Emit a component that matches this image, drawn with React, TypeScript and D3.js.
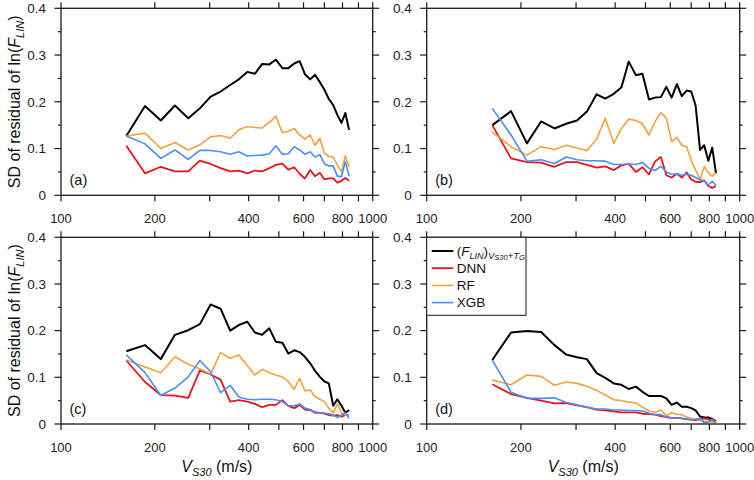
import * as d3 from 'd3';

// V_S30 bin centres (m/s), shared by all four panels
const VS30 = [162, 186, 209, 232, 256, 279, 302, 325, 349, 372, 396, 419, 442, 466, 489, 513, 536, 560, 583, 606, 630, 653, 677, 700, 723, 747, 770, 794, 817, 840];

// (a)
const A_GMM = [0.127, 0.191, 0.160, 0.192, 0.165, 0.186, 0.211, 0.222, 0.236, 0.248, 0.264, 0.260, 0.281, 0.280, 0.290, 0.272, 0.272, 0.282, 0.287, 0.259, 0.248, 0.258, 0.242, 0.226, 0.206, 0.193, 0.172, 0.155, 0.176, 0.140];
const A_DNN = [0.106, 0.047, 0.061, 0.051, 0.051, 0.074, 0.067, 0.058, 0.051, 0.053, 0.047, 0.053, 0.051, 0.058, 0.065, 0.068, 0.055, 0.060, 0.046, 0.036, 0.054, 0.041, 0.048, 0.034, 0.036, 0.036, 0.027, 0.031, 0.037, 0.031];
const A_RF = [0.127, 0.133, 0.100, 0.113, 0.097, 0.108, 0.125, 0.128, 0.122, 0.140, 0.147, 0.145, 0.144, 0.156, 0.169, 0.134, 0.137, 0.143, 0.129, 0.120, 0.129, 0.107, 0.122, 0.090, 0.083, 0.082, 0.065, 0.050, 0.085, 0.060];
const A_XGB = [0.127, 0.110, 0.079, 0.097, 0.077, 0.096, 0.096, 0.093, 0.088, 0.093, 0.084, 0.085, 0.086, 0.089, 0.106, 0.088, 0.089, 0.104, 0.097, 0.088, 0.093, 0.082, 0.087, 0.067, 0.063, 0.063, 0.041, 0.040, 0.072, 0.041];

// (b)
const B_GMM = [0.150, 0.180, 0.111, 0.158, 0.143, 0.153, 0.160, 0.179, 0.216, 0.207, 0.217, 0.231, 0.286, 0.257, 0.260, 0.205, 0.209, 0.210, 0.232, 0.209, 0.238, 0.212, 0.224, 0.222, 0.192, 0.097, 0.107, 0.074, 0.102, 0.047];
const B_DNN = [0.150, 0.079, 0.071, 0.070, 0.061, 0.071, 0.071, 0.065, 0.059, 0.062, 0.054, 0.064, 0.067, 0.050, 0.060, 0.045, 0.072, 0.082, 0.043, 0.038, 0.046, 0.038, 0.049, 0.034, 0.029, 0.028, 0.032, 0.020, 0.016, 0.020];
const B_RF = [0.135, 0.104, 0.086, 0.104, 0.098, 0.107, 0.101, 0.096, 0.120, 0.165, 0.111, 0.143, 0.163, 0.160, 0.153, 0.129, 0.157, 0.177, 0.165, 0.115, 0.124, 0.107, 0.104, 0.075, 0.054, 0.034, 0.061, 0.048, 0.041, 0.048];
const B_XGB = [0.186, 0.129, 0.073, 0.076, 0.068, 0.082, 0.076, 0.074, 0.074, 0.073, 0.066, 0.066, 0.067, 0.066, 0.070, 0.058, 0.053, 0.062, 0.050, 0.045, 0.046, 0.043, 0.045, 0.043, 0.038, 0.033, 0.031, 0.022, 0.030, 0.021];

// (c)
const C_GMM = [0.156, 0.169, 0.139, 0.191, 0.201, 0.214, 0.256, 0.247, 0.200, 0.212, 0.219, 0.196, 0.191, 0.205, 0.176, 0.174, 0.151, 0.158, 0.154, 0.144, 0.130, 0.114, 0.101, 0.091, 0.087, 0.039, 0.053, 0.039, 0.024, 0.030];
const C_DNN = [0.136, 0.090, 0.062, 0.061, 0.056, 0.115, 0.106, 0.095, 0.048, 0.051, 0.048, 0.043, 0.036, 0.041, 0.041, 0.051, 0.039, 0.034, 0.041, 0.031, 0.030, 0.024, 0.024, 0.022, 0.019, 0.018, 0.019, 0.016, 0.019, 0.019];
const C_RF = [0.137, 0.122, 0.110, 0.144, 0.128, 0.118, 0.107, 0.153, 0.141, 0.148, 0.125, 0.105, 0.117, 0.110, 0.105, 0.101, 0.091, 0.074, 0.098, 0.071, 0.073, 0.059, 0.053, 0.048, 0.034, 0.024, 0.043, 0.023, 0.019, 0.019];
const C_XGB = [0.148, 0.110, 0.061, 0.077, 0.101, 0.136, 0.112, 0.067, 0.083, 0.058, 0.053, 0.052, 0.053, 0.053, 0.052, 0.048, 0.039, 0.039, 0.043, 0.034, 0.031, 0.026, 0.024, 0.023, 0.022, 0.019, 0.014, 0.019, 0.024, 0.012];

// (d)
const D_GMM = [0.137, 0.196, 0.199, 0.197, 0.169, 0.149, 0.143, 0.139, 0.109, 0.099, 0.087, 0.084, 0.075, 0.080, 0.069, 0.060, 0.060, 0.060, 0.055, 0.041, 0.046, 0.037, 0.037, 0.034, 0.029, 0.016, 0.014, 0.014, 0.011, 0.005];
const D_DNN = [0.085, 0.064, 0.056, 0.050, 0.044, 0.045, 0.040, 0.036, 0.031, 0.029, 0.027, 0.025, 0.025, 0.025, 0.022, 0.021, 0.020, 0.017, 0.015, 0.013, 0.013, 0.012, 0.010, 0.010, 0.008, 0.010, 0.012, 0.010, 0.008, 0.006];
const D_RF = [0.094, 0.084, 0.105, 0.102, 0.083, 0.090, 0.087, 0.081, 0.072, 0.062, 0.052, 0.050, 0.047, 0.045, 0.036, 0.028, 0.025, 0.030, 0.018, 0.024, 0.021, 0.020, 0.015, 0.012, 0.010, 0.008, 0.006, 0.005, 0.004, 0.002];
const D_XGB = [0.137, 0.068, 0.055, 0.055, 0.056, 0.046, 0.041, 0.036, 0.032, 0.032, 0.030, 0.030, 0.029, 0.029, 0.028, 0.023, 0.020, 0.020, 0.014, 0.013, 0.013, 0.012, 0.011, 0.008, 0.010, 0.012, 0.003, 0.004, 0.010, 0.003];

const PANEL_LABELS = ['(a)', '(b)', '(c)', '(d)'];
const X_LABELED = [100, 200, 400, 600, 800, 1000];
const LEGEND_NAMES = ['GMM', 'DNN', 'RF', 'XGB'];

const COLORS: Record<string, string> = { GMM: '#000000', DNN: '#e8141c', RF: '#f0a23f', XGB: '#4a8ef5' };
const WIDTHS: Record<string, number> = { GMM: 2, DNN: 1.8, RF: 1.6, XGB: 1.6 };
const FONT = "Arial, 'Liberation Sans', sans-serif";
const AXIS = '#1a1a1a';

const COLS = [{ l: 61, r: 372.7 }, { l: 426.7, r: 739.7 }];
const ROWS = [{ t: 8.3, b: 195.3 }, { t: 237.3, b: 424 }];

type Series = Record<string, number[]>;

function YLabel({ cy }: { cy: number }) {
  return (
    <text transform={`translate(20,${cy}) rotate(-90)`} textAnchor="middle" fontSize={16} fill="#111" fontFamily={FONT}>
      SD of residual of ln(<tspan fontStyle="italic">F</tspan>
      <tspan fontStyle="italic" fontSize={11} dy={4}>LIN</tspan>
      <tspan dy={-4}>)</tspan>
    </text>
  );
}

function XLabel({ cx }: { cx: number }) {
  return (
    <text x={cx} y={472} textAnchor="middle" fontSize={16} fill="#111" fontFamily={FONT}>
      <tspan fontStyle="italic">V</tspan>
      <tspan fontStyle="italic" fontSize={11} dy={4}>S30</tspan>
      <tspan dy={-4}> (m/s)</tspan>
    </text>
  );
}

function Legend({ x, y }: { x: number; y: number }) {
  const rowH = 17.2;
  return (
    <g>
      <rect x={x} y={y} width={99.3} height={78} fill="#fff" stroke={AXIS} strokeWidth={1} />
      {LEGEND_NAMES.map((name, i) => {
        const yy = y + 13.7 + i * rowH;
        return (
          <g key={name}>
            <line x1={x + 5} x2={x + 26.6} y1={yy} y2={yy} stroke={COLORS[name]} strokeWidth={WIDTHS[name]} />
            {name === 'GMM' ? (
              <text x={x + 30} y={yy + 4.8} fontSize={13.5} fill="#111" fontFamily={FONT}>
                (<tspan fontStyle="italic">F</tspan>
                <tspan fontStyle="italic" fontSize={9} dy={3}>LIN</tspan>
                <tspan dy={-3}>)</tspan>
                <tspan fontStyle="italic" fontSize={9.5} dy={3}>V</tspan>
                <tspan fontStyle="italic" fontSize={7.5} dy={1.5}>S30</tspan>
                <tspan fontStyle="italic" fontSize={9.5} dy={-1.5}>+T</tspan>
                <tspan fontStyle="italic" fontSize={7.5} dy={1.5}>G</tspan>
              </text>
            ) : (
              <text x={x + 30} y={yy + 4.8} fontSize={13.5} fill="#111" fontFamily={FONT}>{name}</text>
            )}
          </g>
        );
      })}
    </g>
  );
}

function Panel({ idx, series }: { idx: number; series: Series }) {
  const col = COLS[idx % 2], row = ROWS[Math.floor(idx / 2)];
  const x = d3.scaleLog().domain([100, 1000]).range([col.l, col.r]);
  const y = d3.scaleLinear().domain([0, 0.4]).range([row.b, row.t]);
  const line = d3.line<number>().x((_, i) => x(VS30[i])).y(d => y(d));
  const xTicks = x.ticks();
  const yTicks = y.ticks(8);
  const fmt = (v: number) => (v === 0 ? '0' : v.toFixed(1));

  return (
    <g>
      {['GMM', 'DNN', 'RF', 'XGB'].map(k => (
        <path key={k} d={line(series[k]) || ''} fill="none" stroke={COLORS[k]} strokeWidth={WIDTHS[k]} strokeLinejoin="round" />
      ))}
      <rect x={col.l} y={row.t} width={col.r - col.l} height={row.b - row.t} fill="none" stroke={AXIS} strokeWidth={1.3} />
      {xTicks.map(t => (
        <g key={`x${t}`}>
          <line x1={x(t)} x2={x(t)} y1={row.b} y2={row.b + 6} stroke={AXIS} strokeWidth={1.2} />
          <line x1={x(t)} x2={x(t)} y1={row.t} y2={row.t - 6} stroke={AXIS} strokeWidth={1.2} />
          {X_LABELED.includes(t) && (
            <text x={x(t)} y={row.b + 27.5} textAnchor="middle" fontSize={13} fill="#222" fontFamily={FONT}>{t}</text>
          )}
        </g>
      ))}
      {yTicks.map((t, i) => {
        const major = i % 2 === 0;
        const len = major ? 6.5 : 3;
        return (
          <g key={`y${t}`}>
            <line x1={col.l - len} x2={col.l} y1={y(t)} y2={y(t)} stroke={AXIS} strokeWidth={1.2} />
            <line x1={col.r} x2={col.r + len} y1={y(t)} y2={y(t)} stroke={AXIS} strokeWidth={1.2} />
            {major && (
              <text x={col.l - 15} y={y(t)} dy="0.35em" textAnchor="end" fontSize={13.5} fill="#222" fontFamily={FONT}>{fmt(t)}</text>
            )}
          </g>
        );
      })}
      <text x={col.l + 8.5} y={row.b - 10} fontSize={14.5} fill="#111" fontFamily={FONT}>{PANEL_LABELS[idx]}</text>
      {idx % 2 === 0 && <YLabel cy={(row.t + row.b) / 2} />}
      {idx >= 2 && <XLabel cx={(col.l + col.r) / 2} />}
      {idx === 3 && <Legend x={col.l} y={row.t} />}
    </g>
  );
}

export default function App() {
  const panels: Series[] = [
    { GMM: A_GMM, DNN: A_DNN, RF: A_RF, XGB: A_XGB },
    { GMM: B_GMM, DNN: B_DNN, RF: B_RF, XGB: B_XGB },
    { GMM: C_GMM, DNN: C_DNN, RF: C_RF, XGB: C_XGB },
    { GMM: D_GMM, DNN: D_DNN, RF: D_RF, XGB: D_XGB },
  ];
  return (
    <svg width={754} height={480} viewBox="0 0 754 480" style={{ position: 'absolute', left: 0, top: 0, background: '#fff' }}>
      {panels.map((s, i) => <Panel key={i} idx={i} series={s} />)}
    </svg>
  );
}
